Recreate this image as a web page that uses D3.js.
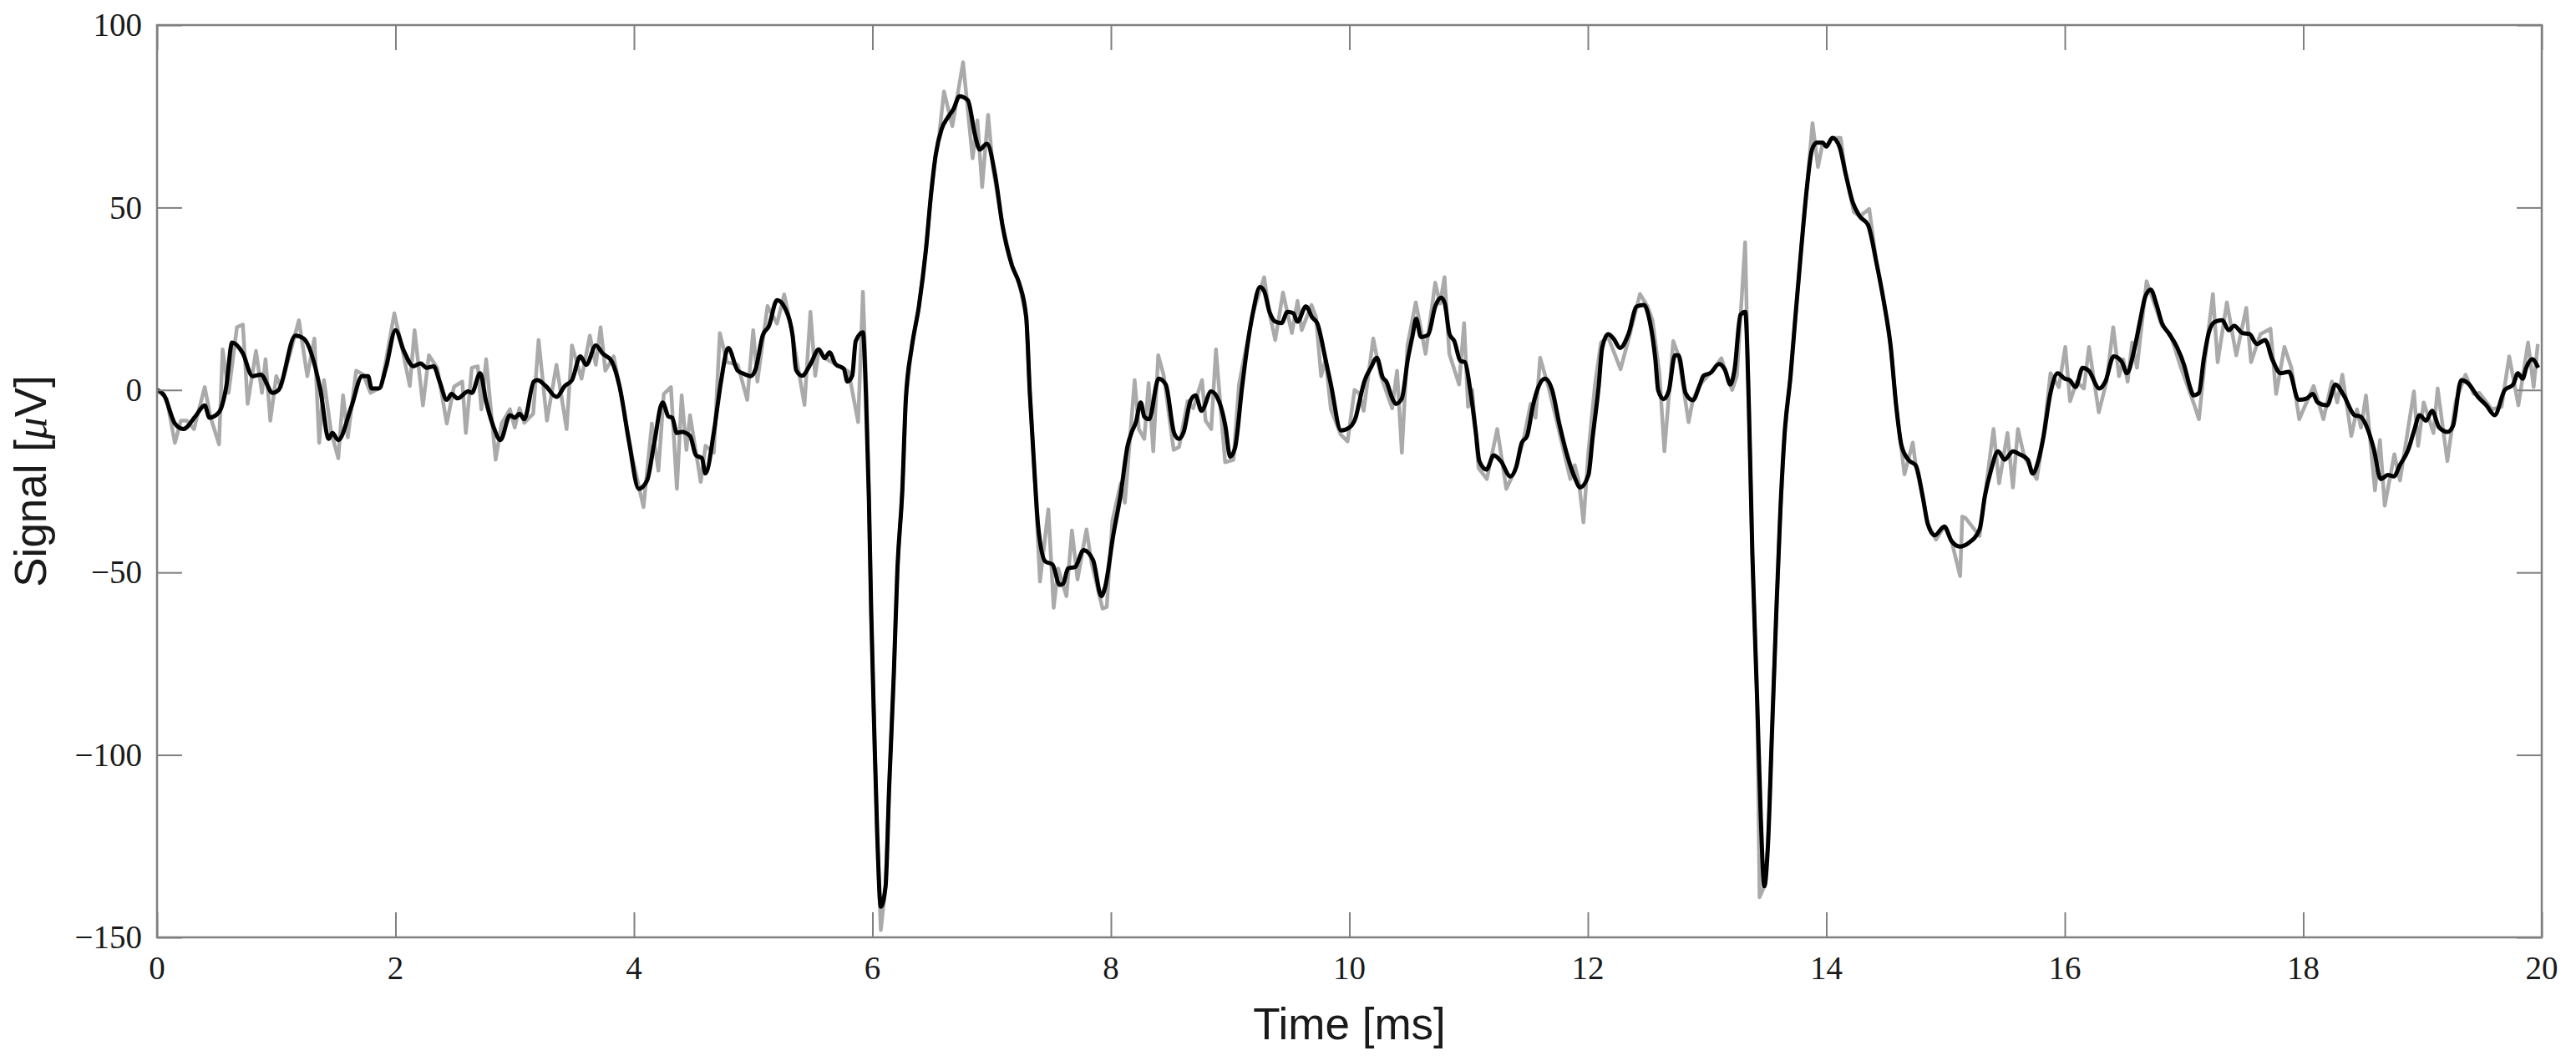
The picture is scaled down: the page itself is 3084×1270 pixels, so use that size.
<!DOCTYPE html>
<html>
<head>
<meta charset="utf-8">
<script src="https://cdn.jsdelivr.net/npm/d3@7"></script>
<style>
  body { margin: 0; background: #fff; }
  .tick-label { font-family: "Liberation Serif", "DejaVu Serif", serif; font-size: 39px; fill: #1a1a1a; }
  .axis-title { font-family: "Liberation Sans", Arial, sans-serif; font-size: 53px; fill: #1a1a1a; }
</style>
</head>
<body>
<div id="chart-area"></div>
<script>
// axis ticks
var xTicks = [0, 2, 4, 6, 8, 10, 12, 14, 16, 18, 20];
var yTicks = [-150, -100, -50, 0, 50, 100];

// raw recording (grey), [time ms, signal uV]
var rawSignal = [
  [0,0],[0.08,-2.3],[0.15,-14.5],[0.20,-8.4],[0.25,-8.4],[0.31,-10.7],[0.40,0.8],[0.45,-7.6],[0.52,-14.9],
  [0.55,11.1],[0.60,-0.8],[0.67,17.2],[0.72,17.9],[0.76,-3.8],[0.83,10.7],[0.88,-0.8],[0.91,8.4],[0.95,-8.4],
  [1.00,3.8],[1.04,0.8],[1.09,6.9],[1.19,19.1],[1.26,3.8],[1.32,14.1],[1.36,-14.5],[1.40,2.7],[1.46,-11.5],
  [1.52,-18.7],[1.56,-1.5],[1.60,-13],[1.67,5.3],[1.73,4.2],[1.79,-0.8],[1.88,0.8],[1.99,21],[2.06,10.7],
  [2.12,1.1],[2.16,16.4],[2.23,-4.2],[2.28,9.5],[2.35,6.1],[2.43,-9.2],[2.49,0.8],
  [2.50,1.1],[2.56,2.3],[2.59,-11.8],[2.64,6.1],[2.69,6.5],[2.72,-5.3],[2.76,8.4],[2.84,-19.1],[2.89,-9.2],
  [2.96,-5.3],[3.00,-10.3],[3.04,-5.0],[3.08,-9.0],[3.155,-6.5],[3.20,13.7],[3.27,-8.4],[3.35,6.9],[3.435,-10.7],
  [3.48,12.2],[3.56,3.1],[3.63,14.9],[3.68,6.9],[3.72,17.2],[3.76,5.3],[3.83,9.2],[3.89,-0.8],[3.98,-17.6],
  [4.08,-32.1],[4.15,-9.2],[4.205,-22.1],[4.25,-1.1],[4.31,0.8],[4.36,-27.1],[4.40,-1.5],[4.44,-16.4],[4.47,-6.9],
  [4.56,-25.2],[4.60,-15.3],[4.67,-17.2],[4.72,15.6],[4.78,7.6],[4.87,6.9],[4.95,-2.7],[5.00,16.4],
  [5.035,2.3],[5.12,23.0],[5.20,18.2],[5.26,26.2],[5.33,15.0],[5.43,-4.1],[5.48,21.4],[5.52,3.9],[5.55,11.1],
  [5.60,8.7],[5.69,7.1],[5.76,5.8],[5.80,5],[5.88,-8.8],[5.92,26.9],[5.95,0],[5.97,-29.5],[5.99,-61.3],
  [6.015,-93.1],[6.04,-121.7],[6.07,-148],[6.11,-136],[6.14,-109],[6.18,-77.2],[6.21,-48.6],[6.25,-27.9],
  [6.28,-2.5],[6.33,11.8],[6.39,23.0],[6.45,38.9],[6.49,53.2],[6.53,64.3],[6.56,70],[6.60,81.8],[6.67,72.3],
  [6.76,89.8],[6.84,63.5],[6.88,73.9],[6.92,55.6],[6.97,75.4],[7.01,61],[7.09,45.2],[7.17,34.1],[7.23,29.3],
  [7.29,19.8],[7.32,-0.9],[7.36,-23.1],[7.405,-52.5],[7.475,-32.7],[7.52,-59.7],
  [7.557,-48.9],[7.627,-56.5],[7.673,-38.5],[7.72,-51.9],[7.795,-38.2],[7.837,-47.3],[7.93,-59.9],[7.965,-59.5],
  [8.012,-35.9],[8.082,-25.6],[8.117,-30.9],[8.199,2.7],[8.234,-10.7],[8.28,-13.4],[8.316,1.9],[8.355,-16.8],
  [8.397,9.5],[8.444,3.8],[8.526,-16.4],[8.572,-15.6],[8.643,-3.1],[8.69,-5.0],[8.764,2.7],[8.794,-8.4],
  [8.841,-10.7],[8.881,11.1],[8.923,-6.1],[8.958,-19.8],[9.028,-19.1],[9.074,1.5],[9.19,21.0],[9.285,30.9],
  [9.33,21],[9.378,13.7],[9.443,26.7],[9.518,15.6],[9.565,24.4],[9.6,16.4],[9.682,23.3],[9.72,20],[9.763,3.8],
  [9.80,8.4],[9.845,-5.3],[9.927,-12.2],[9.985,-14.1],[10.043,0],
  [10.08,-0.8],[10.12,-5.7],[10.2,14.1],[10.26,4.2],[10.359,-5.0],[10.4,5.3],[10.44,-17.2],[10.487,12.2],
  [10.557,24.0],[10.639,9.9],[10.72,29.4],[10.76,23.7],[10.798,30.9],[10.838,9.9],[10.92,1.5],[10.962,18.3],
  [10.995,-4.6],[11.03,0],[11.083,-21.4],[11.153,-24.4],[11.24,-10.7],[11.316,-27.1],[11.39,-22],[11.46,-13.7],
  [11.52,-3.8],[11.561,-7.6],[11.6,8.8],[11.67,0.8],[11.76,-11.5],[11.853,-24.4],[11.89,-20.6],[11.925,-25.2],
  [11.963,-36.3],[12.005,-16.8],[12.06,1.5],[12.11,13],[12.17,14.5],[12.274,5.7],[12.34,13.7],[12.437,26.3],
  [12.50,22.9],[12.542,19.1],[12.60,4.6],
  [12.642,-16.8],[12.716,13.4],[12.76,9.5],[12.845,-8.8],[12.88,-2.8],[12.94,1.5],[13.03,4.7],[13.12,8.7],
  [13.15,5.5],[13.21,0],[13.25,3.9],[13.319,40.5],[13.35,-4.1],[13.38,-45.4],[13.42,-85.1],[13.44,-139],
  [13.48,-136],[13.51,-124.9],[13.545,-93.1],[13.58,-61.3],[13.615,-32.7],[13.65,-12.0],[13.70,3.9],[13.74,19.8],
  [13.79,38.9],[13.84,56.4],[13.884,73.1],[13.93,61.1],[13.97,67.8],[14.00,66.7],[14.05,69.1],[14.12,69.1],
  [14.16,59.5],[14.23,48.8],[14.28,47.6],[14.36,49.6],[14.42,34.9],[14.48,24.6],[14.54,11.8],[14.585,-4.1],
  [14.655,-23.1],[14.725,-14.4],[14.75,-20.7],[14.81,-29.5],[14.85,-36.6],[14.92,-41],[14.99,-37.4],[15.05,-41.4],
  [15.122,-51],[15.14,-34.7],
  [15.168,-35.1],[15.285,-40],[15.33,-29.0],[15.402,-10.7],[15.449,-25.6],[15.519,-11.8],[15.565,-26.7],
  [15.607,-10.7],[15.66,-18.3],[15.764,-24.4],[15.82,-13],[15.88,4.6],[15.95,0.8],[16.004,11.8],[16.044,-3.1],
  [16.10,2.3],[16.16,0.4],[16.203,11.8],[16.285,-6.1],[16.35,2.3],[16.406,17.2],[16.455,3.8],[16.49,8.4],
  [16.527,2.3],[16.565,13.0],[16.605,6.1],[16.686,29.8],[16.815,17.6],[16.885,15.3],[16.966,6.9],[17.083,-3.8],
  [17.125,-8.0],[17.176,8.4],[17.242,26.3],[17.282,7.6],[17.359,24.0],[17.438,9.5],[17.522,22.5],[17.562,7.6],
  [17.64,15.3],
  [17.725,16.8],[17.772,-1.1],[17.842,11.8],[17.90,6.1],[17.966,-8.0],[18.087,1.1],[18.169,-8.0],[18.24,2.3],
  [18.285,-3.4],[18.328,4.2],[18.403,-12.6],[18.45,-5.3],[18.484,-10.3],[18.526,-1.5],[18.601,-27.5],[18.643,-13.7],
  [18.683,-31.7],[18.764,-17.6],[18.811,-24.8],[18.928,-0.4],[18.963,-15.3],[19.01,-3.4],[19.092,-11.8],
  [19.127,0.4],[19.208,-19.5],[19.278,-3.1],[19.36,4.2],[19.43,-1.1],[19.477,-0.8],[19.582,-5.3],[19.663,-4.6],
  [19.727,9.2],[19.804,-4.2],[19.885,13],[19.932,0.8],[19.967,12.6]
];

// filtered signal (black), [time ms, signal uV]
var filteredSignal = [
  [0,0],[0.06,-1.5],[0.15,-9.2],[0.22,-10.7],[0.32,-7.3],[0.40,-4.2],[0.44,-7.6],[0.52,-6.1],[0.58,0.8],
  [0.63,13],[0.72,10],[0.80,3.8],[0.87,4.2],[0.97,-0.8],[1.02,0],[1.16,14.9],[1.23,14.1],[1.37,0],[1.44,-13.4],
  [1.47,-11.8],[1.52,-13.7],[1.63,-4.6],[1.72,3.8],[1.77,3.8],[1.80,0.4],[1.86,0.4],[1.92,6.1],[2.00,16.4],
  [2.07,10.7],[2.15,6.5],[2.21,7.3],[2.26,6.1],[2.32,6.5],[2.37,2.3],[2.43,-2.7],
  [2.47,-1.1],[2.52,-2.3],[2.61,-0.4],[2.64,-0.8],[2.71,4.6],[2.76,-3.1],[2.82,-9.9],[2.88,-13.7],[2.96,-6.9],
  [3.00,-7.6],[3.04,-6.5],[3.08,-8.0],[3.16,2.3],[3.19,2.7],[3.26,1.1],[3.35,-1.9],[3.42,1.1],[3.48,2.7],
  [3.55,9.2],[3.60,6.9],[3.68,12.2],[3.74,9.9],[3.81,8.0],[3.88,0.8],[3.96,-14.5],[4.04,-27.1],[4.11,-24.8],
  [4.17,-14.5],[4.24,-3.4],[4.29,-7.3],[4.32,-7.6],[4.36,-11.8],[4.40,-11.5],[4.47,-12.6],[4.52,-17.9],
  [4.57,-18.7],[4.60,-22.9],[4.67,-11.5],[4.73,2.3],[4.79,11.5],[4.87,5.3],[4.91,4.6],[4.98,3.8],[5.02,5.7],
  [5.08,15.0],[5.13,17.4],[5.20,24.6],[5.27,22.2],[5.33,15.0],[5.36,5.5],[5.41,3.9],[5.48,7.1],[5.55,11.1],
  [5.60,8.7],[5.64,10.3],[5.69,7.1],[5.76,5.8],[5.79,2.3],[5.83,3.9],[5.86,13.4],[5.92,15.8],[5.945,-0.9],
  [5.97,-29.5],[5.99,-61.3],[6.015,-93.1],[6.04,-121.7],[6.07,-141.6],[6.11,-136],[6.14,-109],[6.18,-77.2],
  [6.21,-48.6],[6.25,-27.9],[6.28,-2.5],[6.33,11.8],[6.39,23.0],[6.45,38.9],[6.49,53.2],[6.53,64.3],[6.58,71.5],
  [6.63,74.6],[6.68,77.0],[6.73,80.5],[6.80,79.4],[6.86,69.9],[6.90,65.9],[6.96,67.5],[7.03,58.7],[7.09,45.2],
  [7.17,34.1],[7.23,29.3],[7.29,19.8],[7.32,-0.9],[7.36,-23.1],[7.39,-37.4],[7.45,-47.0],[7.51,-47.8],
  [7.57,-53.4],[7.60,-53.1],[7.64,-48.9],[7.70,-48.5],[7.77,-43.9],[7.85,-46.6],[7.92,-56.5],[7.95,-54.2],
  [8.02,-39.7],[8.08,-29.0],[8.14,-15.3],[8.175,-11.5],[8.21,-8.8],[8.25,-3.4],[8.28,-7.3],[8.32,-8.0],[8.40,3.1],
  [8.46,1.5],[8.53,-11.8],[8.57,-13.4],[8.61,-11.5],[8.67,-2.7],[8.71,-1.5],[8.76,-5.7],[8.84,-0.4],[8.91,-3.4],
  [8.96,-9.9],[9.00,-18.3],[9.04,-16.0],[9.10,0.8],[9.145,12.2],[9.19,21.0],[9.25,28.2],[9.285,27.1],[9.33,21.4],
  [9.38,18.7],[9.43,18.3],[9.48,21.4],[9.53,21.0],[9.565,18.7],[9.635,22.9],[9.69,19.8],[9.73,18.3],[9.80,8.4],
  [9.845,1.5],[9.93,-11.1],[10.00,-10.3],[10.055,-7.3],
  [10.08,-3.8],[10.125,2.3],[10.18,6.1],[10.23,8.8],[10.28,3.4],[10.31,2.3],[10.36,-2.3],[10.39,-3.8],[10.44,-2.3],
  [10.49,8.4],[10.53,14.9],[10.56,19.5],[10.60,14.5],[10.66,15.1],[10.72,22.9],[10.77,25.3],[10.80,23.7],
  [10.84,15.3],[10.88,13.4],[10.93,8.0],[10.97,7.6],[11.01,0.8],[11.06,-11.5],[11.09,-19.5],[11.15,-21.8],
  [11.21,-17.9],[11.27,-19.5],[11.35,-23.7],[11.40,-21.0],[11.445,-14.5],[11.49,-12.6],[11.54,-4.2],[11.585,0.8],
  [11.64,3.1],[11.70,0],[11.76,-9.2],[11.83,-18.3],[11.89,-24.0],[11.935,-26.7],[12.005,-23.3],[12.04,-13.0],
  [12.09,0.8],[12.12,11.5],[12.17,15.3],[12.215,14.1],[12.27,11.5],[12.34,15.3],[12.41,22.9],[12.47,23.3],
  [12.52,18.7],[12.566,8.4],
  [12.59,-0.1],[12.635,-2.5],[12.68,-0.1],[12.73,9.5],[12.76,9.5],[12.82,-0.9],[12.88,-2.8],[12.94,1.5],[12.97,3.9],
  [13.03,4.7],[13.10,7.1],[13.15,5.5],[13.195,1.5],[13.23,5.5],[13.28,20.6],[13.32,21.4],[13.35,-4.1],[13.38,-45.4],
  [13.42,-85.1],[13.45,-116.9],[13.48,-136.0],[13.51,-124.9],[13.545,-93.1],[13.58,-61.3],[13.615,-32.7],
  [13.65,-12.0],[13.70,3.9],[13.74,19.8],[13.79,38.9],[13.84,56.4],[13.88,65.9],[13.92,67.8],[13.97,67.8],
  [14.00,66.7],[14.05,69.1],[14.11,66.7],[14.16,59.5],[14.22,51.6],[14.28,47.6],[14.35,45.2],[14.42,34.9],
  [14.48,24.6],[14.54,11.8],[14.585,-4.1],[14.63,-15.2],[14.69,-19.2],[14.75,-20.7],[14.81,-29.5],[14.85,-36.6],
  [14.91,-39.8],[14.99,-37.4],[15.05,-41.4],
  [15.12,-42.9],[15.19,-42.0],[15.285,-38.2],[15.33,-29.0],[15.38,-22.1],[15.44,-16.8],[15.495,-19.1],[15.565,-16.8],
  [15.62,-17.6],[15.69,-19.1],[15.73,-22.9],[15.78,-19.1],[15.82,-13.0],[15.88,-0.8],[15.94,4.6],[16.00,3.1],
  [16.04,2.7],[16.09,0.8],[16.15,6.1],[16.20,5.3],[16.29,0.4],[16.34,2.3],[16.41,9.2],[16.48,7.6],[16.52,4.6],
  [16.58,10.7],[16.63,18.7],[16.675,25.6],[16.72,27.5],[16.77,23.3],[16.815,18.3],[16.87,15.6],[16.94,11.8],
  [17.00,6.9],[17.05,0.8],[17.08,-1.5],[17.125,-0.8],[17.165,8.4],[17.21,16.0],[17.26,18.7],[17.32,19.1],
  [17.375,16.4],[17.42,17.6],[17.49,15.6],[17.55,15.3],[17.61,12.6],
  [17.68,13.7],[17.74,8.4],[17.81,4.6],[17.88,5.0],[17.96,-2.7],[18.03,-2.3],[18.08,-1.1],[18.12,-3.4],[18.20,-4.2],
  [18.27,1.5],[18.34,-1.5],[18.43,-6.9],[18.48,-7.3],[18.54,-10.7],[18.59,-16.0],[18.65,-24.4],[18.71,-23.3],
  [18.76,-23.7],[18.81,-20.6],[18.88,-16.4],[18.93,-11.1],[18.975,-6.9],[19.03,-8.4],[19.08,-5.7],[19.14,-10.3],
  [19.21,-11.5],[19.255,-9.9],[19.325,2.7],[19.38,1.9],[19.465,-1.9],[19.535,-4.2],[19.605,-6.9],[19.69,0],
  [19.76,1.5],[19.80,4.6],[19.84,3.1],[19.87,6.1],[19.92,8.4],[19.97,6.1]
];

var W = 3084, H = 1270;
var margin = { left: 188, right: 41, top: 30, bottom: 148 };
var width = W - margin.left - margin.right;
var height = H - margin.top - margin.bottom;
var tickLen = 30;

var svg = d3.select("#chart-area").append("svg")
  .attr("width", W)
  .attr("height", H);

var g = svg.append("g")
  .attr("transform", "translate(" + margin.left + "," + margin.top + ")");

var x = d3.scaleLinear().domain([0, 20]).range([0, width]);
var y = d3.scaleLinear().domain([-150, 100]).range([height, 0]);

g.append("clipPath").attr("id", "plot-clip")
  .append("rect").attr("width", width).attr("height", height);

// lines
var rawLine = d3.line()
  .x(function(d) { return x(d[0]); })
  .y(function(d) { return y(d[1]); });

var smoothLine = d3.line()
  .x(function(d) { return x(d[0]); })
  .y(function(d) { return y(d[1]); })
  .curve(d3.curveMonotoneX);

var lines = g.append("g").attr("clip-path", "url(#plot-clip)");

lines.append("path")
  .datum(rawSignal)
  .attr("fill", "none")
  .attr("stroke", "#aaaaaa")
  .attr("stroke-width", 4.5)
  .attr("stroke-linejoin", "round")
  .attr("d", rawLine);

lines.append("path")
  .datum(filteredSignal)
  .attr("fill", "none")
  .attr("stroke", "#000")
  .attr("stroke-width", 5)
  .attr("stroke-linejoin", "round")
  .attr("d", smoothLine);

// box-style axes with inward ticks on all four sides
var frameColor = "#808080";

var xBottom = d3.axisBottom(x).tickValues(xTicks).tickSize(-tickLen).tickFormat("");
var xTop = d3.axisTop(x).tickValues(xTicks).tickSize(-tickLen).tickFormat("");
var yLeft = d3.axisLeft(y).tickValues(yTicks).tickSize(-tickLen).tickFormat("");
var yRight = d3.axisRight(y).tickValues(yTicks).tickSize(-tickLen).tickFormat("");

function styleAxis(sel) {
  sel.select(".domain").remove();
  sel.selectAll(".tick line").attr("stroke", frameColor).attr("stroke-width", 2);
}

g.append("g").attr("transform", "translate(0," + height + ")").call(xBottom).call(styleAxis);
g.append("g").call(xTop).call(styleAxis);
g.append("g").call(yLeft).call(styleAxis);
g.append("g").attr("transform", "translate(" + width + ",0)").call(yRight).call(styleAxis);

g.append("rect")
  .attr("width", width)
  .attr("height", height)
  .attr("fill", "none")
  .attr("stroke", frameColor)
  .attr("stroke-width", 2.5);

// tick labels
g.selectAll(".x-label")
  .data(xTicks)
  .enter().append("text")
    .attr("class", "tick-label")
    .attr("x", function(d) { return x(d); })
    .attr("y", height + 50)
    .attr("text-anchor", "middle")
    .text(function(d) { return d; });

g.selectAll(".y-label")
  .data(yTicks)
  .enter().append("text")
    .attr("class", "tick-label")
    .attr("x", -18)
    .attr("y", function(d) { return y(d); })
    .attr("dy", "0.34em")
    .attr("text-anchor", "end")
    .text(function(d) { return d < 0 ? "\u2212" + Math.abs(d) : d; });

// axis titles
g.append("text")
  .attr("class", "axis-title")
  .attr("x", width / 2)
  .attr("y", height + 122)
  .attr("text-anchor", "middle")
  .text("Time [ms]");

var yTitle = g.append("text")
  .attr("class", "axis-title")
  .attr("transform", "translate(" + (-133) + "," + (height / 2) + ") rotate(-90)")
  .attr("text-anchor", "middle");
yTitle.append("tspan").text("Signal [");
yTitle.append("tspan")
  .style("font-family", "'Liberation Serif', serif")
  .style("font-style", "italic")
  .text("\u03bc");
yTitle.append("tspan").text("V]");
</script>
</body>
</html>
